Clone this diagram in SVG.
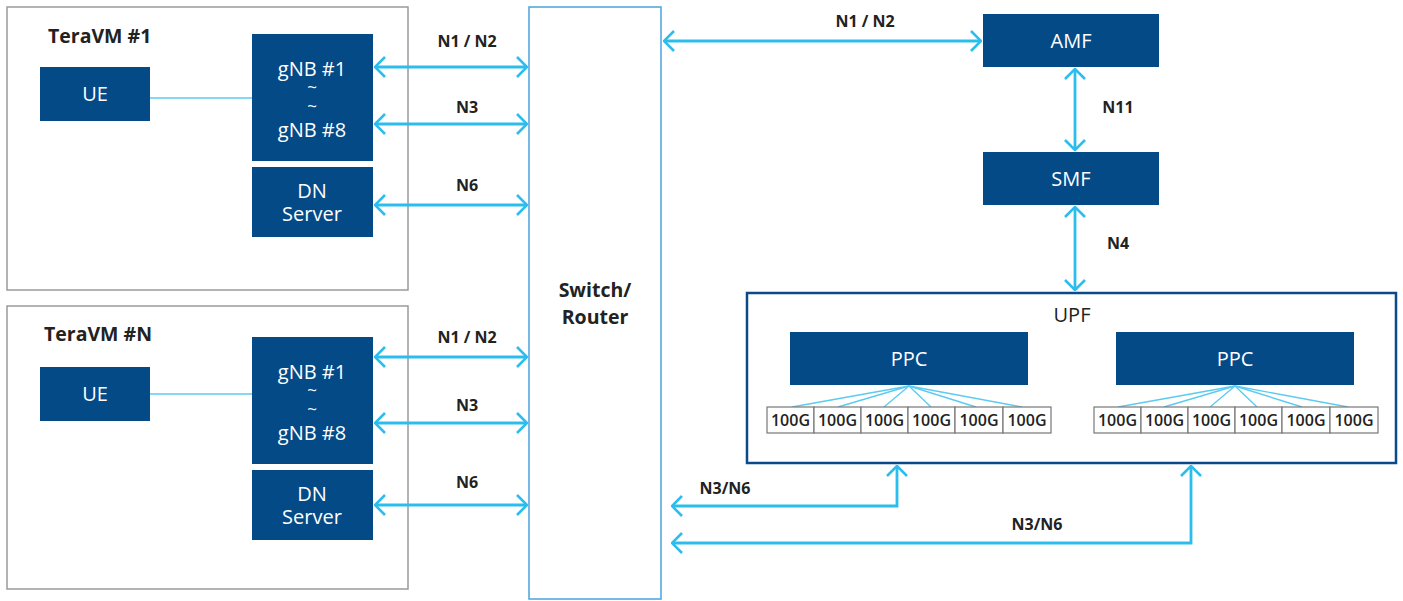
<svg xmlns="http://www.w3.org/2000/svg" width="1403" height="601" viewBox="0 0 1403 601">
<defs>
<marker id="ah" viewBox="0 0 12 22" refX="11" refY="11" markerWidth="12" markerHeight="22" markerUnits="userSpaceOnUse" orient="auto-start-reverse">
<path d="M1,1 L11,11 L1,21" fill="none" stroke="#2bbdee" stroke-width="2.6"/>
</marker>
<style>
.frame{fill:#fff;stroke:#9a9a9a;stroke-width:1.5}
.node{fill:#034a87}
.nt{font-family:"Open Sans","Liberation Sans",sans-serif;font-size:20px;fill:#fff;text-anchor:middle}
.sm{font-size:17px}
.lbl{font-family:"Open Sans","Liberation Sans",sans-serif;font-size:16px;font-weight:bold;fill:#222;text-anchor:middle}
.ttl{font-family:"Open Sans","Liberation Sans",sans-serif;font-size:19.5px;font-weight:bold;fill:#222}
.conn{fill:none;stroke:#2bbdee;stroke-width:2.8}
.thin{fill:none;stroke:#5ccbf0;stroke-width:1.4}
.cell{fill:#fff;stroke:#777;stroke-width:1.2}
.ct{font-family:"Open Sans","Liberation Sans",sans-serif;font-size:16px;font-weight:600;fill:#222;text-anchor:middle}
</style>
</defs>
<rect width="1403" height="601" fill="#fff"/>

<g id="teravm1">
<rect class="frame" x="7" y="7" width="401" height="283"/>
<text class="ttl" x="48" y="43">TeraVM #1</text>
</g>
<g id="teravmN">
<rect class="frame" x="7" y="306" width="401" height="283"/>
<text class="ttl" x="44" y="341">TeraVM #N</text>
</g>
<g id="switch">
<rect x="529" y="7" width="132" height="592" fill="#fff" stroke="#4aa3df" stroke-width="1.5"/>
<text class="ttl" x="595" y="297" text-anchor="middle">Switch/</text>
<text class="ttl" x="595" y="324" text-anchor="middle">Router</text>
</g>
<g id="upf">
<rect x="747" y="293" width="649" height="170" fill="#fff" stroke="#0a4a8a" stroke-width="2.5"/>
<text x="1072" y="322" font-family="Open Sans, Liberation Sans, sans-serif" font-size="20" fill="#222" text-anchor="middle">UPF</text>
</g>

<g id="connectors">
<line class="thin" x1="150" y1="98" x2="252" y2="98"/>
<line class="thin" x1="150" y1="394" x2="252" y2="394"/>
<line class="conn" x1="375" y1="67" x2="527" y2="67" marker-start="url(#ah)" marker-end="url(#ah)"/>
<line class="conn" x1="375" y1="124" x2="527" y2="124" marker-start="url(#ah)" marker-end="url(#ah)"/>
<line class="conn" x1="375" y1="205" x2="527" y2="205" marker-start="url(#ah)" marker-end="url(#ah)"/>
<line class="conn" x1="375" y1="357" x2="527" y2="357" marker-start="url(#ah)" marker-end="url(#ah)"/>
<line class="conn" x1="375" y1="423" x2="527" y2="423" marker-start="url(#ah)" marker-end="url(#ah)"/>
<line class="conn" x1="375" y1="505" x2="527" y2="505" marker-start="url(#ah)" marker-end="url(#ah)"/>
<line class="conn" x1="664" y1="41" x2="981" y2="41" marker-start="url(#ah)" marker-end="url(#ah)"/>
<line class="conn" x1="1075" y1="69" x2="1075" y2="150" marker-start="url(#ah)" marker-end="url(#ah)"/>
<line class="conn" x1="1075" y1="207" x2="1075" y2="290" marker-start="url(#ah)" marker-end="url(#ah)"/>
<polyline class="conn" points="672,506 897,506 897,466" marker-start="url(#ah)" marker-end="url(#ah)"/>
<polyline class="conn" points="672,543 1191,543 1191,466" marker-start="url(#ah)" marker-end="url(#ah)"/>
<g class="thin">
<line x1="909" y1="386" x2="792" y2="407"/><line x1="909" y1="386" x2="838" y2="407"/><line x1="909" y1="386" x2="884" y2="407"/>
<line x1="909" y1="386" x2="931" y2="407"/><line x1="909" y1="386" x2="976" y2="407"/><line x1="909" y1="386" x2="1022" y2="407"/>
<line x1="1235" y1="386" x2="1118" y2="407"/><line x1="1235" y1="386" x2="1164" y2="407"/><line x1="1235" y1="386" x2="1210" y2="407"/>
<line x1="1235" y1="386" x2="1257" y2="407"/><line x1="1235" y1="386" x2="1302" y2="407"/><line x1="1235" y1="386" x2="1348" y2="407"/>
</g>
<text class="lbl" x="467" y="47">N1 / N2</text>
<text class="lbl" x="467" y="113">N3</text>
<text class="lbl" x="467" y="191">N6</text>
<text class="lbl" x="467" y="343">N1 / N2</text>
<text class="lbl" x="467" y="411">N3</text>
<text class="lbl" x="467" y="488">N6</text>
<text class="lbl" x="865" y="27">N1 / N2</text>
<text class="lbl" x="1118" y="113">N11</text>
<text class="lbl" x="1118" y="249">N4</text>
<text class="lbl" x="725" y="494" font-size="17">N3/N6</text>
<text class="lbl" x="1037" y="530" font-size="17">N3/N6</text>
</g>

<g id="ue1"><rect class="node" x="40" y="67" width="110" height="54"/><text class="nt" x="95" y="101">UE</text></g>
<g id="gnb1"><rect class="node" x="252" y="34" width="121" height="127"/>
<text class="nt" x="312" y="76">gNB #1</text><text class="nt sm" x="312" y="93">~</text><text class="nt sm" x="312" y="112">~</text><text class="nt" x="312" y="137">gNB #8</text></g>
<g id="dn1"><rect class="node" x="252" y="167" width="121" height="70"/>
<text class="nt" x="312" y="198">DN</text><text class="nt" x="312" y="221">Server</text></g>

<g id="ueN"><rect class="node" x="40" y="367" width="110" height="54"/><text class="nt" x="95" y="401">UE</text></g>
<g id="gnbN"><rect class="node" x="252" y="337" width="121" height="127"/>
<text class="nt" x="312" y="379">gNB #1</text><text class="nt sm" x="312" y="396">~</text><text class="nt sm" x="312" y="415">~</text><text class="nt" x="312" y="440">gNB #8</text></g>
<g id="dnN"><rect class="node" x="252" y="470" width="121" height="70"/>
<text class="nt" x="312" y="501">DN</text><text class="nt" x="312" y="524">Server</text></g>

<g id="amf"><rect class="node" x="983" y="14" width="176" height="53"/><text class="nt" x="1071" y="48">AMF</text></g>
<g id="smf"><rect class="node" x="983" y="152" width="176" height="53"/><text class="nt" x="1071" y="186">SMF</text></g>

<g id="ppc1"><rect class="node" x="790" y="332" width="238" height="53"/><text class="nt" x="909" y="366">PPC</text>
<rect class="cell" x="767" y="407" width="47" height="26"/><rect class="cell" x="814" y="407" width="47" height="26"/><rect class="cell" x="861" y="407" width="47" height="26"/>
<rect class="cell" x="908" y="407" width="47" height="26"/><rect class="cell" x="955" y="407" width="48" height="26"/><rect class="cell" x="1003" y="407" width="48" height="26"/>
<text class="ct" x="790.5" y="426">100G</text><text class="ct" x="837.5" y="426">100G</text><text class="ct" x="884.5" y="426">100G</text>
<text class="ct" x="931.5" y="426">100G</text><text class="ct" x="979" y="426">100G</text><text class="ct" x="1027" y="426">100G</text>
</g>
<g id="ppc2"><rect class="node" x="1116" y="332" width="238" height="53"/><text class="nt" x="1235" y="366">PPC</text>
<rect class="cell" x="1094" y="407" width="47" height="26"/><rect class="cell" x="1141" y="407" width="47" height="26"/><rect class="cell" x="1188" y="407" width="47" height="26"/>
<rect class="cell" x="1235" y="407" width="47" height="26"/><rect class="cell" x="1282" y="407" width="48" height="26"/><rect class="cell" x="1330" y="407" width="48" height="26"/>
<text class="ct" x="1117.5" y="426">100G</text><text class="ct" x="1164.5" y="426">100G</text><text class="ct" x="1211.5" y="426">100G</text>
<text class="ct" x="1258.5" y="426">100G</text><text class="ct" x="1306" y="426">100G</text><text class="ct" x="1354" y="426">100G</text>
</g>
</svg>
